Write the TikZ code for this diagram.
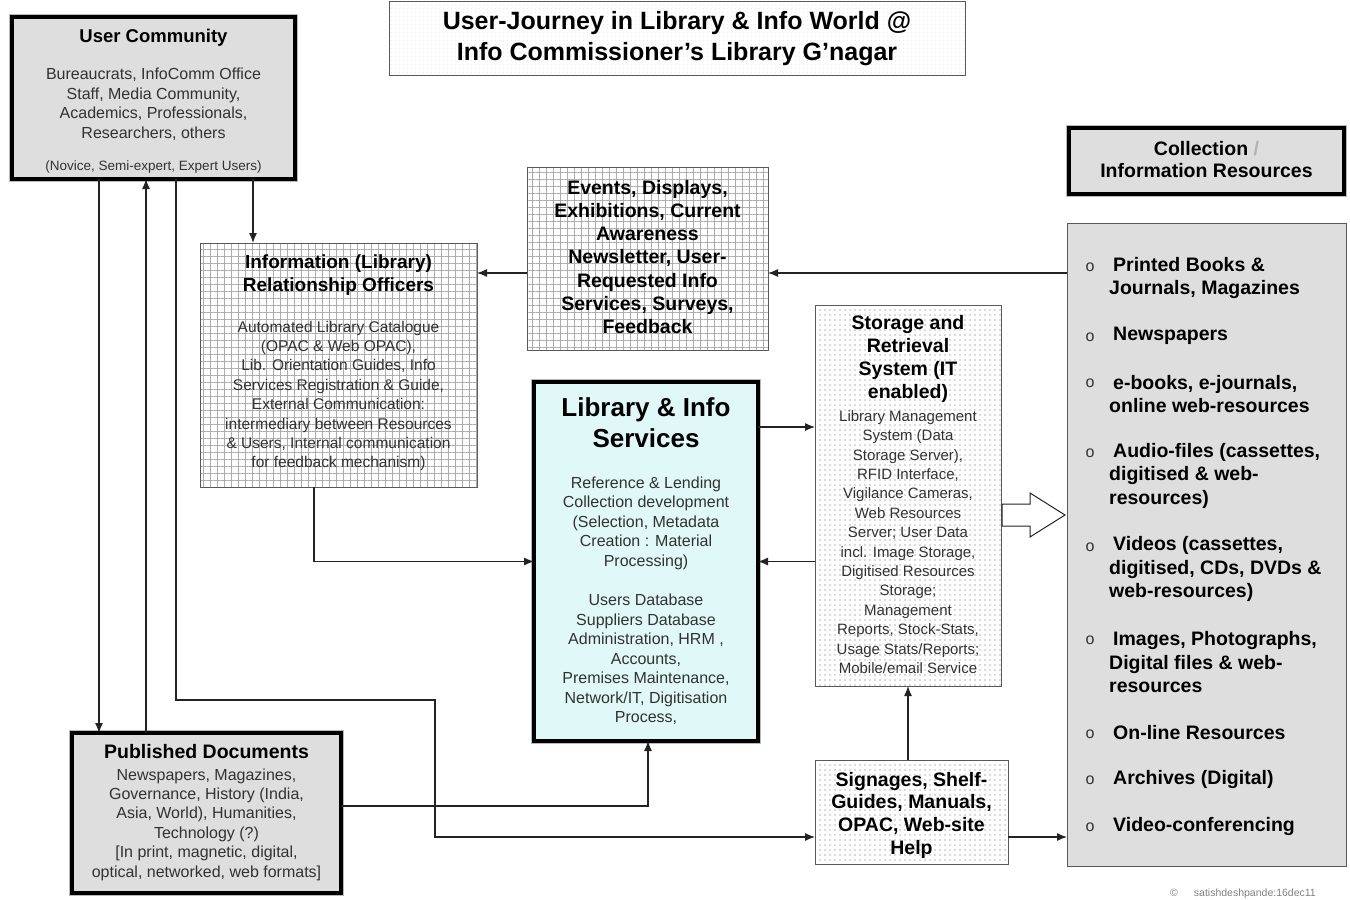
\documentclass[tikz,border=0pt]{standalone}
\usepackage{fontspec}
\setmainfont{Liberation Sans}
\usetikzlibrary{arrows.meta,patterns.meta}
\definecolor{boxgray}{RGB}{222,222,222}
\definecolor{cyanfill}{RGB}{224,248,248}
\definecolor{txtgray}{RGB}{50,50,50}
\definecolor{linec}{RGB}{35,35,35}
\newcommand{\fsz}[2]{\fontsize{#1}{#2}\selectfont}
\begin{document}
\begin{tikzpicture}[x=1pt,y=-1pt,
  shapebox/.style={rectangle, inner sep=0pt, outer sep=0pt},
  heavy/.style={shapebox, draw=black, line width=3.5pt, preaction={draw=gray!55, line width=6.5pt}, fill=boxgray},
  gridbox/.style={shapebox, draw=gray!70!black, line width=1pt, preaction={fill=white}, pattern={Hatch[distance=7pt,angle=0,line width=0.5pt]}, pattern color=gray!65},
  dotbox/.style={shapebox, draw=gray!70!black, line width=1pt, preaction={fill=white}, pattern={Dots[distance=5pt,radius=0.6pt]}, pattern color=black!60},
  plainbox/.style={shapebox, draw=gray!70!black, line width=1pt, fill=boxgray},
  arr/.style={draw=linec, line width=1.2pt, -{Latex[length=10pt,width=8pt]}},
  ttl/.style={inner sep=0pt, align=center, text=black},
  bdy/.style={inner sep=0pt, align=center, text=txtgray},
  item/.style={inner sep=0pt, align=left, anchor=west, text=black, font=\fsz{19.5}{23.5}\bfseries},
  bul/.style={inner sep=0pt, text=txtgray, font=\fsz{16}{17}}
]
\useasboundingbox (0,0) rectangle (1350,900);

% ---------- boxes ----------
\node[shapebox, draw=gray!70!black, line width=1pt, preaction={fill=white}, pattern={Dots[distance=4pt,radius=0.4pt]}, pattern color=gray!35,
      minimum width=576pt, minimum height=74pt] (title) at (677,38) {};
\node[heavy, minimum width=283pt, minimum height=162pt] (uc) at (153.5,98) {};
\node[gridbox, minimum width=277pt, minimum height=244pt] (iro) at (338.5,365) {};
\node[gridbox, minimum width=241pt, minimum height=183pt] (ev) at (647.5,258.5) {};
\node[shapebox, draw=black, line width=3.5pt, preaction={draw=gray!55, line width=6.5pt}, fill=cyanfill,
      minimum width=224pt, minimum height=359pt] (lis) at (646,561.5) {};
\node[dotbox, minimum width=186pt, minimum height=381pt] (sr) at (908,495.5) {};
\node[heavy, minimum width=269pt, minimum height=160pt] (pd) at (206.5,813) {};
\node[dotbox, minimum width=193pt, minimum height=104pt] (sg) at (911.5,812) {};
\node[heavy, minimum width=275pt, minimum height=66pt] (colh) at (1206.5,161) {};
\node[plainbox, minimum width=279pt, minimum height=643pt] (coll) at (1206.5,544.5) {};

% ---------- texts ----------
\node[ttl, font=\fsz{25}{31}\bfseries] (titletxt) at (677,39) {User-Journey in Library \& Info World @\\Info Commissioner's Library G'nagar};

\node[ttl, font=\fsz{18.5}{20}\bfseries] (uct) at (153.5,38) {User Community};
\node[bdy, font=\fsz{16}{19.5}] (ucb) at (153.5,104) {Bureaucrats, InfoComm Office\\Staff, Media Community,\\Academics, Professionals,\\Researchers, others};
\node[bdy, font=\fsz{13.5}{15}] (ucn) at (153.5,167) {(Novice, Semi-expert, Expert Users)};

\node[ttl, font=\fsz{19}{23}\bfseries] (irot) at (338.5,275) {Information (Library)\\Relationship Officers};
\node[bdy, font=\fsz{15.5}{19.4}] (irob) at (338.5,396) {Automated Library Catalogue\\(OPAC \& Web OPAC),\\Lib. Orientation Guides, Info\\Services Registration \& Guide,\\External Communication:\\intermediary between Resources\\\& Users, Internal communication\\for feedback mechanism)};

\node[ttl, font=\fsz{19.5}{23.2}\bfseries] (evt) at (647.5,257) {Events, Displays,\\Exhibitions, Current\\Awareness\\Newsletter, User-\\Requested Info\\Services, Surveys,\\Feedback};

\node[ttl, font=\fsz{26}{31}\bfseries] (list) at (646,423) {Library \& Info\\Services};
\node[bdy, font=\fsz{16}{19.5}] (lisb1) at (646,523) {Reference \& Lending\\Collection development\\(Selection, Metadata\\Creation : Material\\Processing)};
\node[bdy, font=\fsz{16}{19.5}] (lisb2) at (646,659.5) {Users Database\\Suppliers Database\\Administration, HRM ,\\Accounts,\\Premises Maintenance,\\Network/IT, Digitisation\\Process,};

\node[ttl, font=\fsz{19.5}{23.3}\bfseries] (srt) at (908,359) {Storage and\\Retrieval\\System (IT\\enabled)};
\node[bdy, font=\fsz{15}{19.4}] (srb) at (908,542) {Library Management\\System (Data\\Storage Server),\\RFID Interface,\\Vigilance Cameras,\\Web Resources\\Server; User Data\\incl. Image Storage,\\Digitised Resources\\Storage;\\Management\\Reports, Stock-Stats,\\Usage Stats/Reports;\\Mobile/email Service};

\node[ttl, font=\fsz{19.5}{22}\bfseries] (pdt) at (206.5,752) {Published Documents};
\node[bdy, font=\fsz{16}{19.4}] (pdb) at (206.5,824.5) {Newspapers, Magazines,\\Governance, History (India,\\Asia, World), Humanities,\\Technology (?)\\{[}In print, magnetic, digital,\\optical, networked, web formats{]}};

\node[ttl, font=\fsz{19.5}{22.7}\bfseries] (sgt) at (911.5,815) {Signages, Shelf-\\Guides, Manuals,\\OPAC, Web-site\\Help};

\node[ttl, font=\fsz{19.5}{22}\bfseries] (colht) at (1206.5,160) {Collection {\color{gray!60}/}\\Information Resources};

% collection items
\node[item] (i1) at (1109,278) {\hspace*{4pt}Printed Books \&\\Journals, Magazines};
\node[item] (i2) at (1109,336) {\hspace*{4pt}Newspapers};
\node[item] (i3) at (1109,394) {\hspace*{4pt}e-books, e-journals,\\online web-resources};
\node[item] (i4) at (1109,475.5) {\hspace*{4pt}Audio-files (cassettes,\\digitised \& web-\\resources)};
\node[item] (i5) at (1109,569) {\hspace*{4pt}Videos (cassettes,\\digitised, CDs, DVDs \&\\web-resources)};
\node[item] (i6) at (1109,662.5) {\hspace*{4pt}Images, Photographs,\\Digital files \& web-\\resources};
\node[item] (i7) at (1109,733) {\hspace*{4pt}On-line Resources};
\node[item] (i8) at (1109,779) {\hspace*{4pt}Archives (Digital)};
\node[item] (i9) at (1109,826) {\hspace*{4pt}Video-conferencing};
\foreach \n/\yy in {b1/267,b2/337,b3/383,b4/453,b5/547,b6/640,b7/734,b8/780,b9/827}
  \node[bul] (\n) at (1090,\yy) {o};

\node[inner sep=0pt, text=gray, font=\fsz{10.5}{11}] (credit) at (1243,894) {©\hspace{16pt}satishdeshpande:16dec11};

% ---------- connectors ----------
\draw[arr] ([xshift=87pt]uc.south west) -- ([xshift=27pt]pd.north west);
\draw[arr] ([xshift=74pt]pd.north west) -- ([xshift=134pt]uc.south west);
\coordinate (c1) at (435,700);
\coordinate (c2) at ([yshift=-25pt]sg.west);
\draw[arr] ([xshift=164pt]uc.south west) |- (c1) |- (c2);
\draw[arr] ([xshift=241pt]uc.south west) -- ([xshift=53pt]iro.north west);
\coordinate (e1) at ([yshift=-14.5pt]ev.west);
\draw[arr] (e1) -- (e1 -| iro.east);
\draw[arr] (coll.west |- e1) -- (ev.east |- e1);
\draw[arr] ([xshift=114pt]iro.south west) |- (lis.west);
\coordinate (h1) at ([yshift=134.5pt]lis.east);
\draw[arr] (h1) -- (h1 -| sr.west);
\draw[arr] (sr.west |- lis.east) -- (lis.east);
\coordinate (j1) at ([xshift=2pt]lis.south);
\draw[arr] ([yshift=7pt]pd.east) -| (j1);
\draw[arr] (sg.north -| sr.south) -- (sr.south);
\coordinate (l1) at ([yshift=-25pt]sg.east);
\draw[arr] (l1) -- (l1 -| coll.west);

% hollow arrow storage -> collection
\draw[draw=linec, line width=1pt, fill=white] (1002,504) -- (1030,504) -- (1030,493) -- (1065,515) -- (1030,537) -- (1030,526) -- (1002,526) -- cycle;
\end{tikzpicture}
\end{document}
